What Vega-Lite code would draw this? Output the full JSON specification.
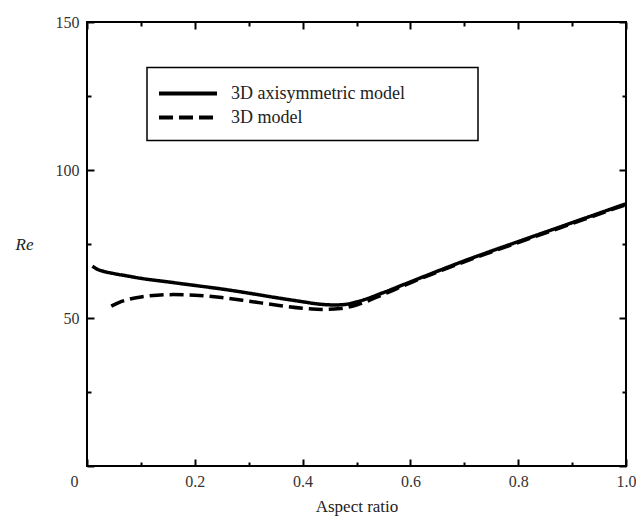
{
  "$schema": "https://vega.github.io/schema/vega-lite/v6.json",
  "width": 539,
  "height": 444,
  "autosize": "none",
  "padding": {"left": 87, "top": 22, "right": 10, "bottom": 56},
  "background": "white",
  "config": {
    "view": {"stroke": "black", "strokeWidth": 2},
    "font": "Liberation Serif"
  },
  "data": {
    "values": [
      {"a": 0.01, "re": 67.5, "model": "3D axisymmetric model"},
      {"a": 0.02, "re": 66.4, "model": "3D axisymmetric model"},
      {"a": 0.03, "re": 65.8, "model": "3D axisymmetric model"},
      {"a": 0.05, "re": 65.0, "model": "3D axisymmetric model"},
      {"a": 0.075, "re": 64.2, "model": "3D axisymmetric model"},
      {"a": 0.1, "re": 63.4, "model": "3D axisymmetric model"},
      {"a": 0.15, "re": 62.2, "model": "3D axisymmetric model"},
      {"a": 0.2, "re": 61.0, "model": "3D axisymmetric model"},
      {"a": 0.25, "re": 59.8, "model": "3D axisymmetric model"},
      {"a": 0.3, "re": 58.4, "model": "3D axisymmetric model"},
      {"a": 0.35, "re": 56.9, "model": "3D axisymmetric model"},
      {"a": 0.4, "re": 55.5, "model": "3D axisymmetric model"},
      {"a": 0.43, "re": 54.7, "model": "3D axisymmetric model"},
      {"a": 0.46, "re": 54.4, "model": "3D axisymmetric model"},
      {"a": 0.48, "re": 54.6, "model": "3D axisymmetric model"},
      {"a": 0.5, "re": 55.4, "model": "3D axisymmetric model"},
      {"a": 0.55, "re": 58.6, "model": "3D axisymmetric model"},
      {"a": 0.6, "re": 62.2, "model": "3D axisymmetric model"},
      {"a": 0.65, "re": 65.8, "model": "3D axisymmetric model"},
      {"a": 0.7, "re": 69.3, "model": "3D axisymmetric model"},
      {"a": 0.75, "re": 72.6, "model": "3D axisymmetric model"},
      {"a": 0.8, "re": 75.8, "model": "3D axisymmetric model"},
      {"a": 0.85, "re": 79.0, "model": "3D axisymmetric model"},
      {"a": 0.9, "re": 82.2, "model": "3D axisymmetric model"},
      {"a": 0.95, "re": 85.4, "model": "3D axisymmetric model"},
      {"a": 1.0, "re": 88.6, "model": "3D axisymmetric model"},
      {"a": 0.045, "re": 54.0, "model": "3D model"},
      {"a": 0.06, "re": 55.3, "model": "3D model"},
      {"a": 0.08, "re": 56.4, "model": "3D model"},
      {"a": 0.1, "re": 57.1, "model": "3D model"},
      {"a": 0.13, "re": 57.7, "model": "3D model"},
      {"a": 0.16, "re": 57.9, "model": "3D model"},
      {"a": 0.2, "re": 57.7, "model": "3D model"},
      {"a": 0.25, "re": 56.9, "model": "3D model"},
      {"a": 0.3, "re": 55.7, "model": "3D model"},
      {"a": 0.35, "re": 54.4, "model": "3D model"},
      {"a": 0.4, "re": 53.3, "model": "3D model"},
      {"a": 0.44, "re": 52.9, "model": "3D model"},
      {"a": 0.47, "re": 53.2, "model": "3D model"},
      {"a": 0.5, "re": 54.4, "model": "3D model"},
      {"a": 0.55, "re": 58.0, "model": "3D model"},
      {"a": 0.6, "re": 61.9, "model": "3D model"},
      {"a": 0.65, "re": 65.5, "model": "3D model"},
      {"a": 0.7, "re": 69.0, "model": "3D model"},
      {"a": 0.75, "re": 72.3, "model": "3D model"},
      {"a": 0.8, "re": 75.5, "model": "3D model"},
      {"a": 0.85, "re": 78.7, "model": "3D model"},
      {"a": 0.9, "re": 81.9, "model": "3D model"},
      {"a": 0.95, "re": 85.1, "model": "3D model"},
      {"a": 1.0, "re": 88.3, "model": "3D model"}
    ]
  },
  "layer": [
    {
      "transform": [{"filter": "datum.model == '3D model'"}],
      "mark": {"type": "line", "color": "black", "strokeWidth": 3.5, "interpolate": "monotone"},
      "encoding": {
        "x": {
          "field": "a", "type": "quantitative",
          "scale": {"domain": [0, 1], "nice": false},
          "axis": {
            "orient": "top", "values": [0, 0.1, 0.2, 0.3, 0.4, 0.5, 0.6, 0.7, 0.8, 0.9, 1.0],
            "labels": false, "title": null, "domain": false, "grid": false,
            "tickColor": "black", "tickWidth": 2,
            "tickSize": {"condition": {"test": "round(datum.value*10) % 2 == 0", "value": -7}, "value": -4}
          }
        },
        "y": {
          "field": "re", "type": "quantitative",
          "scale": {"domain": [0, 150], "nice": false},
          "axis": {
            "orient": "right", "values": [0, 25, 50, 75, 100, 125, 150],
            "labels": false, "title": null, "domain": false, "grid": false,
            "tickColor": "black", "tickWidth": 2,
            "tickSize": {"condition": {"test": "datum.value % 50 == 0", "value": -7}, "value": -4}
          }
        },
        "strokeDash": {
          "field": "model", "type": "nominal",
          "scale": {"domain": ["3D axisymmetric model", "3D model"], "range": [[1, 0], [14, 6]]},
          "legend": {
            "orient": "none", "legendX": 60, "legendY": 45.5,
            "title": "\u00a0", "titleOrient": "right", "titlePadding": 59, "titleFontSize": 18,
            "padding": 14, "strokeColor": "black", "fillColor": "white",
            "symbolType": "M-2.9,0H2.9", "symbolSize": 400, "symbolStrokeWidth": 4,
            "symbolOffset": 15,
            "symbolStrokeColor": "black", "labelFontSize": 18, "labelOffset": 31, "labelLimit": 400,
            "rowPadding": 3, "labelColor": "#222", "labelFont": "Liberation Serif",
            "encode": {"legend": {"update": {"strokeWidth": {"value": 1.5}}}}
          }
        }
      }
    },
    {
      "transform": [{"filter": "datum.model == '3D axisymmetric model'"}],
      "mark": {"type": "line", "color": "black", "strokeWidth": 3.5, "interpolate": "monotone"},
      "encoding": {
        "x": {
          "field": "a", "type": "quantitative",
          "scale": {"domain": [0, 1], "nice": false},
          "axis": {
            "orient": "bottom", "values": [0, 0.1, 0.2, 0.3, 0.4, 0.5, 0.6, 0.7, 0.8, 0.9, 1.0],
            "labelExpr": "datum.value == 0 ? '0' : (round(datum.value*10) % 2 == 0 ? format(datum.value, '.1f') : '')",
            "domain": false, "grid": false, "tickColor": "black", "tickWidth": 2,
            "tickSize": {"condition": {"test": "round(datum.value*10) % 2 == 0", "value": -7}, "value": -4},
            "labelPadding": 14, "labelFontSize": 16, "labelColor": "#333", "labelFont": "Liberation Serif",
            "labelFlush": false,
            "labelOffset": {"condition": {"test": "datum.value == 0", "value": -13}, "value": 0},
            "title": "Aspect ratio", "titleFontWeight": "normal", "titleFontSize": 17,
            "titleFont": "Liberation Serif", "titleColor": "#222",
            "titleY": 40, "titleBaseline": "middle"
          }
        },
        "y": {
          "field": "re", "type": "quantitative",
          "scale": {"domain": [0, 150], "nice": false},
          "axis": {
            "orient": "left", "values": [0, 25, 50, 75, 100, 125, 150],
            "labelExpr": "datum.value % 50 == 0 && datum.value > 0 ? datum.label : ''",
            "domain": false, "grid": false, "tickColor": "black", "tickWidth": 2,
            "tickSize": {"condition": {"test": "datum.value % 50 == 0", "value": -7}, "value": -4},
            "labelPadding": 15, "labelFontSize": 16, "labelColor": "#333", "labelFont": "Liberation Serif",
            "labelFlush": false, "labelBaseline": "middle",
            "title": "Re", "titleAngle": 0, "titleFontStyle": "italic", "titleFontWeight": "normal",
            "titleFontSize": 17, "titleFont": "Liberation Serif", "titleColor": "#222",
            "titleX": -63, "titleY": 222, "titleAlign": "center", "titleBaseline": "middle"
          }
        },
        "strokeDash": {
          "field": "model", "type": "nominal",
          "scale": {"domain": ["3D axisymmetric model", "3D model"], "range": [[1, 0], [14, 6]]}
        }
      }
    }
  ],
  "resolve": {"axis": {"x": "independent", "y": "independent"}}
}
